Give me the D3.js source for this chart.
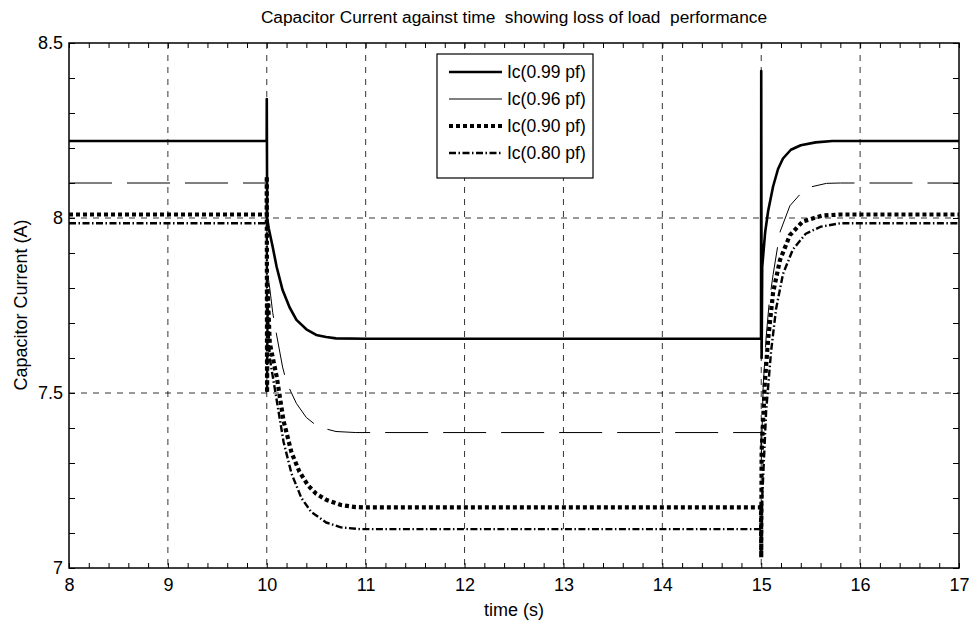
<!DOCTYPE html>
<html>
<head>
<meta charset="utf-8">
<script src="https://cdn.jsdelivr.net/npm/d3@7"></script>
<style>
  body { margin: 0; background: #fff; }
  svg { font-family: "Liberation Sans", Arial, sans-serif; }
</style>
</head>
<body>
<div id="chart"></div>
<script>
// time (s), current (A)
const pf99 = [
  [8, 8.22], [9.999, 8.22], [10, 8.34], [10.004, 8.0], [10.02, 7.97], [10.06, 7.917],
  [10.1, 7.86], [10.16, 7.794], [10.23, 7.745], [10.3, 7.709], [10.4, 7.682],
  [10.5, 7.666], [10.6, 7.66], [10.7, 7.656], [11, 7.655], [14.998, 7.655],
  [15, 8.42], [15.004, 7.6], [15.01, 7.86], [15.04, 7.96], [15.07, 8.02],
  [15.12, 8.09], [15.17, 8.14], [15.22, 8.17], [15.3, 8.195], [15.4, 8.208],
  [15.55, 8.216], [15.72, 8.22], [17, 8.22]
];
const pf96 = [
  [8, 8.1], [9.999, 8.1], [10, 8.05], [10.004, 7.85], [10.03, 7.8], [10.06, 7.73],
  [10.09, 7.68], [10.16, 7.574], [10.2, 7.53], [10.3, 7.47], [10.4, 7.43],
  [10.52, 7.403], [10.7, 7.39], [10.9, 7.387], [14.998, 7.387], [15, 7.3],
  [15.02, 7.52], [15.05, 7.66], [15.08, 7.757], [15.12, 7.838], [15.19, 7.96],
  [15.29, 8.035], [15.4, 8.07], [15.49, 8.088], [15.66, 8.099], [15.8, 8.1], [17, 8.1]
];
const pf90 = [
  [8, 8.01], [9.999, 8.01], [10, 8.12], [10.003, 7.5], [10.008, 7.8], [10.03, 7.643],
  [10.1, 7.547], [10.17, 7.42], [10.25, 7.33], [10.33, 7.275], [10.42, 7.235],
  [10.5, 7.212], [10.6, 7.195], [10.75, 7.18], [10.9, 7.174], [11, 7.173],
  [14.998, 7.173], [15, 7.03], [15.004, 7.33], [15.037, 7.531], [15.07, 7.654],
  [15.12, 7.787], [15.19, 7.88], [15.29, 7.951], [15.42, 7.99], [15.62, 8.007],
  [15.8, 8.01], [17, 8.01]
];
const pf80 = [
  [8, 7.985], [9.999, 7.985], [10, 8.05], [10.003, 7.5], [10.008, 7.75], [10.03, 7.6],
  [10.1, 7.48], [10.17, 7.36], [10.25, 7.27], [10.35, 7.2], [10.45, 7.16],
  [10.6, 7.13], [10.75, 7.116], [10.95, 7.111], [14.998, 7.111], [15, 7.05],
  [15.01, 7.2], [15.05, 7.45], [15.1, 7.62], [15.15, 7.74], [15.22, 7.84],
  [15.32, 7.91], [15.45, 7.955], [15.6, 7.975], [15.8, 7.985], [17, 7.985]
];

const seriesNames = ['Ic(0.99 pf)', 'Ic(0.96 pf)', 'Ic(0.90 pf)', 'Ic(0.80 pf)'];
const xTicks = [8, 9, 10, 11, 12, 13, 14, 15, 16, 17];
const yTicks = [7, 7.5, 8, 8.5];
const xGrid = [9, 10, 11, 12, 13, 14, 15, 16];
const yGrid = [7.5, 8];

const styles = [
  { width: 2.6, dash: null },
  { width: 1, dash: '43,15' },
  { width: 4.2, dash: '4,3' },
  { width: 2.4, dash: '7,2.5,1.5,2.5' }
];

const W = 969, H = 623;
const L = 69, R = 959, T = 43, B = 568;

const svg = d3.select('#chart').append('svg').attr('width', W).attr('height', H);

const x = d3.scaleLinear().domain([8, 17]).range([L, R]);
const y = d3.scaleLinear().domain([7, 8.5]).range([B, T]);

svg.append('clipPath').attr('id', 'clip')
  .append('rect').attr('x', L).attr('y', T).attr('width', R - L).attr('height', B - T);

// grid
svg.append('g').selectAll('line').data(xGrid).enter().append('line')
  .attr('x1', d => x(d)).attr('x2', d => x(d)).attr('y1', T).attr('y2', B)
  .attr('stroke', '#000').attr('stroke-width', 0.8).attr('stroke-dasharray', '6,6');
svg.append('g').selectAll('line').data(yGrid).enter().append('line')
  .attr('y1', d => y(d)).attr('y2', d => y(d)).attr('x1', L).attr('x2', R)
  .attr('stroke', '#000').attr('stroke-width', 0.8).attr('stroke-dasharray', '6,6');

// minor ticks on all sides
const xMinor = d3.range(8, 17.001, 0.2);
const yMinor = d3.range(7, 8.5001, 0.1);
const tickStyle = g => { g.select('.domain').remove(); g.selectAll('line').attr('stroke', '#000').attr('stroke-width', 1); };
svg.append('g').attr('transform', `translate(0,${B})`)
  .call(d3.axisBottom(x).tickValues(xMinor).tickSize(-5).tickFormat('')).call(tickStyle);
svg.append('g').attr('transform', `translate(0,${T})`)
  .call(d3.axisTop(x).tickValues(xMinor).tickSize(-5).tickFormat('')).call(tickStyle);
svg.append('g').attr('transform', `translate(${L},0)`)
  .call(d3.axisLeft(y).tickValues(yMinor).tickSize(-6).tickFormat('')).call(tickStyle);
svg.append('g').attr('transform', `translate(${R},0)`)
  .call(d3.axisRight(y).tickValues(yMinor).tickSize(-6).tickFormat('')).call(tickStyle);

// tick labels
const xa = svg.append('g').attr('transform', `translate(0,${B})`)
  .call(d3.axisBottom(x).tickValues(xTicks).tickSize(0).tickPadding(10).tickFormat(d3.format('d')));
xa.select('.domain').remove();
xa.selectAll('text').attr('font-size', 18).attr('fill', '#000').attr('font-family', null);
const ya = svg.append('g').attr('transform', `translate(${L},0)`)
  .call(d3.axisLeft(y).tickValues(yTicks).tickSize(0).tickPadding(6).tickFormat(d => String(d)));
ya.select('.domain').remove();
ya.selectAll('text').attr('font-size', 18).attr('fill', '#000').attr('font-family', null);

// lines
const line = d3.line().x(d => x(d[0])).y(d => y(d[1]));
const plot = svg.append('g').attr('clip-path', 'url(#clip)');
[pf99, pf96, pf90, pf80].forEach((s, i) => {
  plot.append('path').datum(s)
    .attr('fill', 'none').attr('stroke', '#000')
    .attr('stroke-width', styles[i].width)
    .attr('stroke-dasharray', styles[i].dash)
    .attr('stroke-linejoin', 'round')
    .attr('d', line);
});

// axes box
svg.append('rect').attr('x', L).attr('y', T).attr('width', R - L).attr('height', B - T)
  .attr('fill', 'none').attr('stroke', '#000').attr('stroke-width', 1.5);

// legend
const lg = svg.append('g').attr('transform', 'translate(437,54)');
lg.append('rect').attr('width', 156).attr('height', 124)
  .attr('fill', '#fff').attr('stroke', '#000').attr('stroke-width', 1.2);
seriesNames.forEach((name, i) => {
  const yy = 18 + i * 27;
  lg.append('line').attr('x1', 12).attr('x2', 65).attr('y1', yy).attr('y2', yy)
    .attr('stroke', '#000').attr('stroke-width', styles[i].width)
    .attr('stroke-dasharray', i === 1 ? null : styles[i].dash);
  lg.append('text').attr('x', 70).attr('y', yy + 6).attr('font-size', 17.5).text(name);
});

// titles
svg.append('text').attr('x', 514).attr('y', 23).attr('text-anchor', 'middle')
  .attr('font-size', 17.3).style('white-space', 'pre')
  .text('Capacitor Current against time  showing loss of load  performance');
svg.append('text').attr('x', 514).attr('y', 616).attr('text-anchor', 'middle')
  .attr('font-size', 18).text('time (s)');
svg.append('text').attr('transform', 'translate(27,305) rotate(-90)').attr('text-anchor', 'middle')
  .attr('font-size', 18).text('Capacitor Current (A)');
</script>
</body>
</html>
